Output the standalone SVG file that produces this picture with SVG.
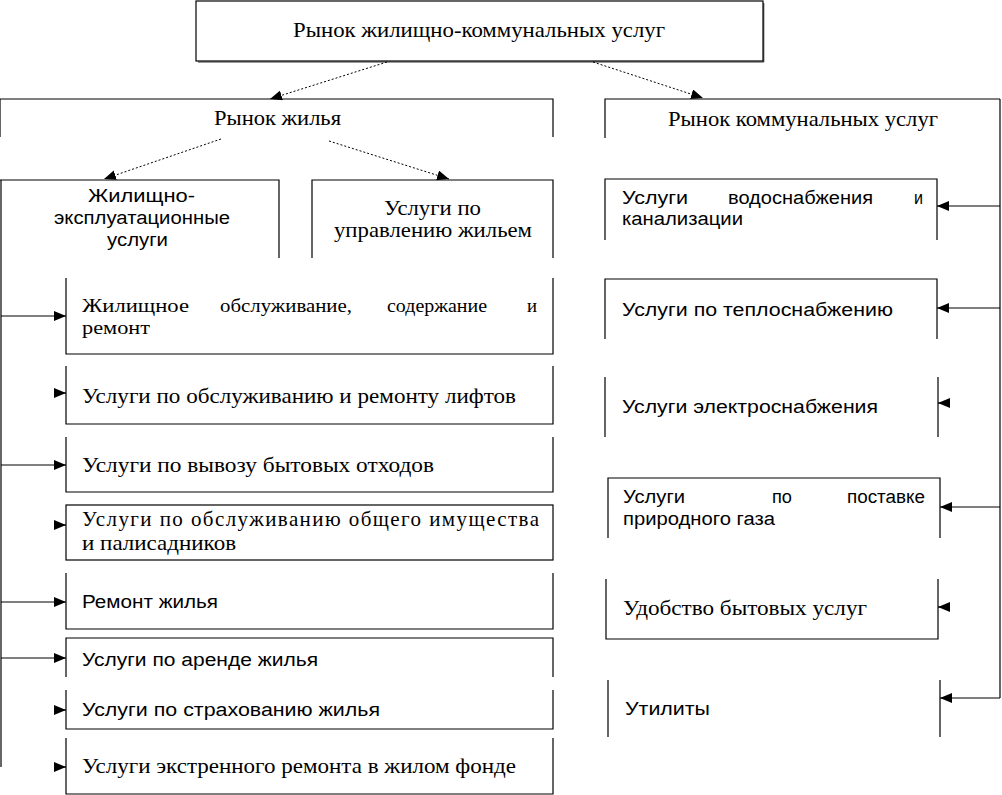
<svg xmlns="http://www.w3.org/2000/svg" width="1002" height="795" viewBox="0 0 1002 795">
<defs>
<marker id="ah" markerUnits="userSpaceOnUse" markerWidth="12" markerHeight="10" refX="12" refY="5" orient="auto">
<path d="M0,0 L12,5 L0,10 z" fill="#000"/>
</marker>
<style>
.b{fill:none;stroke:#000;stroke-width:1.2}
.c{fill:none;stroke:#000;stroke-width:1.2}
.d{fill:none;stroke:#000;stroke-width:1;stroke-dasharray:2 2}
.s{font-family:"Liberation Serif","Times New Roman",serif;font-size:21px;fill:#000}
.s2{font-family:"Liberation Serif","Times New Roman",serif;font-size:19px;fill:#000}
.a{font-family:"Liberation Sans",Arial,sans-serif;font-size:18px;fill:#000}
</style>
</defs>
<rect width="1002" height="795" fill="#fff"/>

<g id="top">
<rect class="b" x="196" y="1" width="567" height="60"/>
<path d="M763.8,3 V62 H198" fill="none" stroke="#000" stroke-width="0.8"/>
<text class="s" x="293" y="37" textLength="372" lengthAdjust="spacingAndGlyphs">Рынок жилищно-коммунальных услуг</text>
</g>

<g id="housing">
<path class="b" d="M0,137 V99 H553 V137"/>
<text class="s" x="214" y="125" textLength="127" lengthAdjust="spacingAndGlyphs">Рынок жилья</text>
</g>

<g id="utilities">
<path class="b" d="M605,138 V99 H1000"/>
<text class="s" x="668" y="126" textLength="270" lengthAdjust="spacingAndGlyphs">Рынок коммунальных услуг</text>
</g>

<g id="zheu">
<path class="b" d="M0,180 H279 V258"/>
<text class="a" x="88" y="202" textLength="107" lengthAdjust="spacingAndGlyphs">Жилищно-</text>
<text class="a" x="54" y="224" textLength="176" lengthAdjust="spacingAndGlyphs">эксплуатационные</text>
<text class="a" x="107" y="246" textLength="61" lengthAdjust="spacingAndGlyphs">услуги</text>
</g>

<g id="management">
<path class="b" d="M312,258 V180 H553 V258"/>
<text class="s" x="384" y="215" textLength="97" lengthAdjust="spacingAndGlyphs">Услуги по</text>
<text class="s" x="334" y="237" textLength="198" lengthAdjust="spacingAndGlyphs">управлению жильем</text>
</g>

<g id="h1">
<path class="b" d="M66,278 V354 H553 V278"/>
<text class="s2" x="82" y="312" textLength="107" lengthAdjust="spacingAndGlyphs">Жилищное</text>
<text class="s2" x="220" y="312" textLength="132" lengthAdjust="spacingAndGlyphs">обслуживание,</text>
<text class="s2" x="387" y="312" textLength="100" lengthAdjust="spacingAndGlyphs">содержание</text>
<text class="s2" x="527" y="312" textLength="10" lengthAdjust="spacingAndGlyphs">и</text>
<text class="s2" x="82" y="334" textLength="68" lengthAdjust="spacingAndGlyphs">ремонт</text>
</g>

<g id="h2">
<path class="b" d="M66,366 V424 H553 V366"/>
<text class="s" x="82" y="403" textLength="434" lengthAdjust="spacingAndGlyphs">Услуги по обслуживанию и ремонту лифтов</text>
</g>

<g id="h3">
<path class="b" d="M66,437 V492 H553 V437"/>
<text class="s" x="82" y="472" textLength="352" lengthAdjust="spacingAndGlyphs">Услуги по вывозу бытовых отходов</text>
</g>

<g id="h4">
<rect class="b" x="66" y="505" width="487" height="55"/>
<text class="s" x="82" y="526" textLength="457" lengthAdjust="spacing">Услуги по обслуживанию общего имущества</text>
<text class="s" x="82" y="550" textLength="154" lengthAdjust="spacingAndGlyphs">и палисадников</text>
</g>

<g id="h5">
<path class="b" d="M66,573 V629 H553 V573"/>
<text class="a" x="82" y="608" textLength="136" lengthAdjust="spacingAndGlyphs">Ремонт жилья</text>
</g>

<g id="h6">
<path class="b" d="M66,677 V638 H553 V677"/>
<text class="a" x="82" y="666" textLength="236" lengthAdjust="spacingAndGlyphs">Услуги по аренде жилья</text>
</g>

<g id="h7">
<path class="b" d="M66,690 V729 H553 V690"/>
<text class="a" x="82" y="716" textLength="298" lengthAdjust="spacingAndGlyphs">Услуги по страхованию жилья</text>
</g>

<g id="h8">
<path class="b" d="M66,738 V794 H553 V738"/>
<text class="s" x="82" y="773" textLength="434" lengthAdjust="spacingAndGlyphs">Услуги экстренного ремонта в жилом фонде</text>
</g>

<g id="u1">
<path class="b" d="M605,240 V179 H937 V240"/>
<text class="a" x="622" y="204" textLength="66" lengthAdjust="spacingAndGlyphs">Услуги</text>
<text class="a" x="728" y="204" textLength="145" lengthAdjust="spacingAndGlyphs">водоснабжения</text>
<text class="a" x="914" y="204" textLength="9" lengthAdjust="spacingAndGlyphs">и</text>
<text class="a" x="622" y="225" textLength="121" lengthAdjust="spacingAndGlyphs">канализации</text>
</g>

<g id="u2">
<path class="b" d="M605,339 V279 H937 V339"/>
<text class="a" x="622" y="316" textLength="271" lengthAdjust="spacingAndGlyphs">Услуги по теплоснабжению</text>
</g>

<g id="u3">
<path class="b" d="M605,377 V437 M938,377 V437"/>
<text class="a" x="622" y="413" textLength="256" lengthAdjust="spacingAndGlyphs">Услуги электроснабжения</text>
</g>

<g id="u4">
<path class="b" d="M608,538 V478 H940 V538"/>
<text class="a" x="623" y="503" textLength="62" lengthAdjust="spacingAndGlyphs">Услуги</text>
<text class="a" x="772" y="503" textLength="20" lengthAdjust="spacingAndGlyphs">по</text>
<text class="a" x="847" y="503" textLength="78" lengthAdjust="spacingAndGlyphs">поставке</text>
<text class="a" x="623" y="525" textLength="152" lengthAdjust="spacingAndGlyphs">природного газа</text>
</g>

<g id="u5">
<path class="b" d="M606,579 V639 H938 V579"/>
<text class="s" x="623" y="615" textLength="244" lengthAdjust="spacingAndGlyphs">Удобство бытовых услуг</text>
</g>

<g id="u6">
<path class="b" d="M608,680 V737 M940,680 V737"/>
<text class="a" x="625" y="715" textLength="85" lengthAdjust="spacingAndGlyphs">Утилиты</text>
</g>

<g id="connectors">
<line class="d" x1="387" y1="62" x2="270" y2="99" marker-end="url(#ah)"/>
<line class="d" x1="593" y1="62" x2="703" y2="98" marker-end="url(#ah)"/>
<line class="d" x1="221" y1="139" x2="104" y2="179" marker-end="url(#ah)"/>
<line class="d" x1="329" y1="141" x2="449" y2="179" marker-end="url(#ah)"/>

<path class="c" d="M1,180 V767"/>
<line class="c" x1="1" y1="316" x2="66" y2="316" marker-end="url(#ah)"/>
<line class="c" x1="55" y1="393" x2="66" y2="393" marker-end="url(#ah)"/>
<line class="c" x1="1" y1="465" x2="66" y2="465" marker-end="url(#ah)"/>
<line class="c" x1="55" y1="525" x2="66" y2="525" marker-end="url(#ah)"/>
<line class="c" x1="1" y1="602" x2="66" y2="602" marker-end="url(#ah)"/>
<line class="c" x1="1" y1="658" x2="66" y2="658" marker-end="url(#ah)"/>
<line class="c" x1="55" y1="710" x2="66" y2="710" marker-end="url(#ah)"/>
<line class="c" x1="55" y1="767" x2="66" y2="767" marker-end="url(#ah)"/>

<path class="c" d="M1000,99 V698"/>
<line class="c" x1="1000" y1="206" x2="937" y2="206" marker-end="url(#ah)"/>
<line class="c" x1="1000" y1="308" x2="937" y2="308" marker-end="url(#ah)"/>
<line class="c" x1="949" y1="403" x2="938" y2="403" marker-end="url(#ah)"/>
<line class="c" x1="1000" y1="507" x2="940" y2="507" marker-end="url(#ah)"/>
<line class="c" x1="949" y1="607" x2="938" y2="607" marker-end="url(#ah)"/>
<line class="c" x1="1000" y1="698" x2="940" y2="698" marker-end="url(#ah)"/>
</g>
</svg>
